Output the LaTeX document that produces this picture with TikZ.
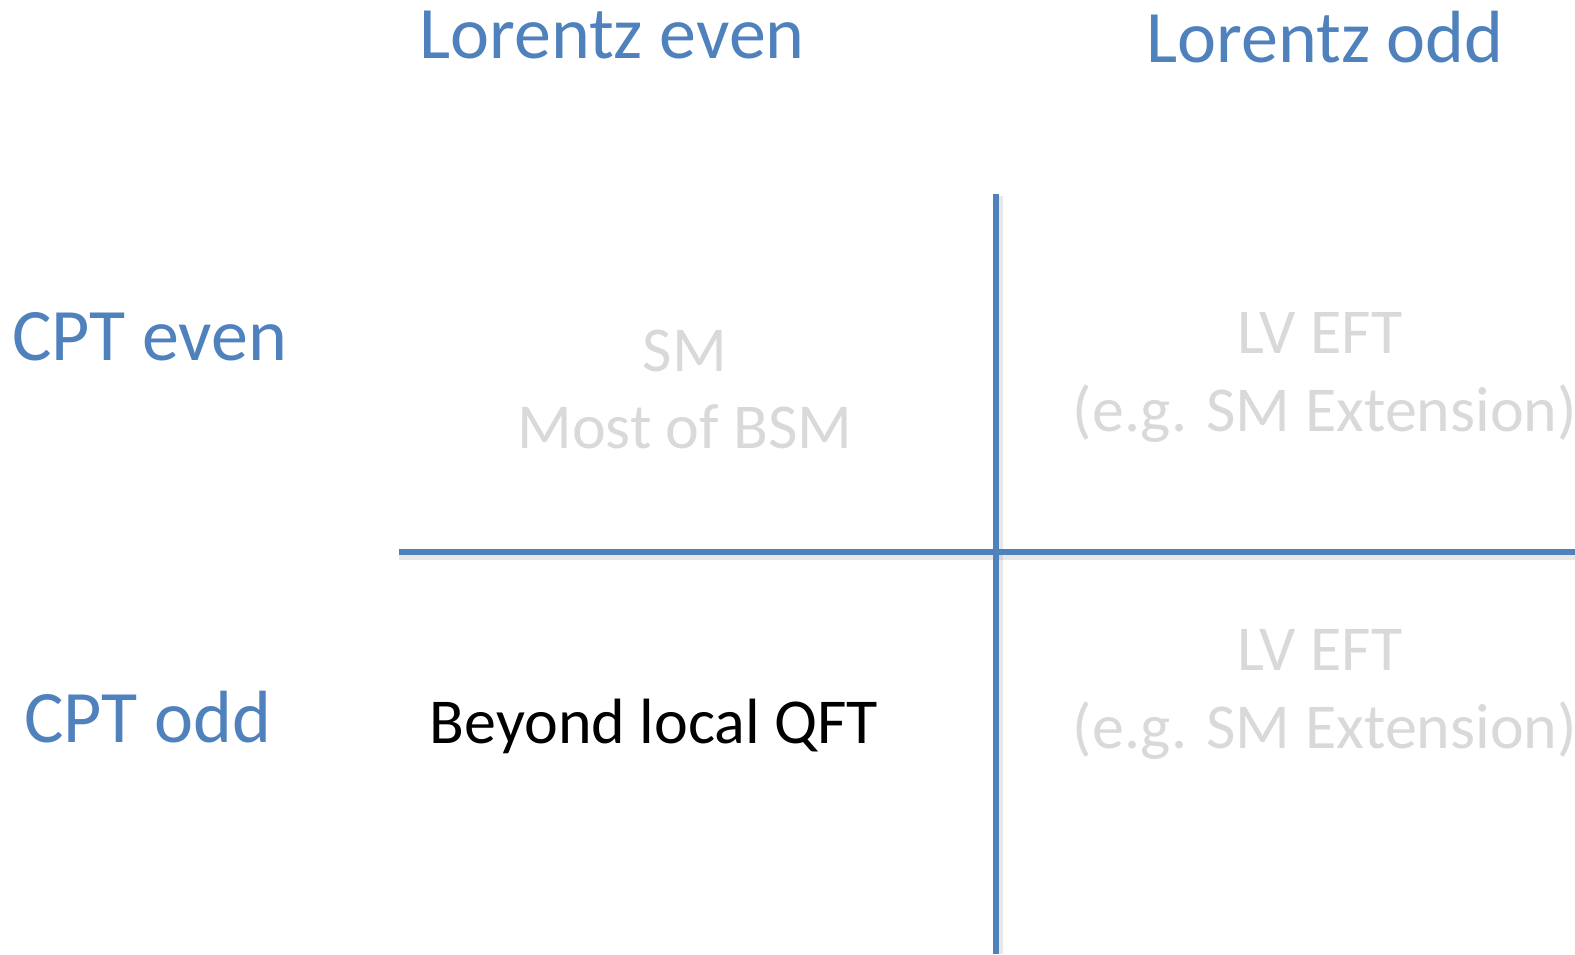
\documentclass[tikz,border=0pt]{standalone}
\usepackage{fontspec}
\setmainfont{Carlito}
\definecolor{hdrblue}{HTML}{4F81BD}
\definecolor{faint}{HTML}{D9D9D9}
\tikzset{
  hdr/.style={anchor=base, inner sep=0pt, text=hdrblue, font=\fontsize{74}{88}\selectfont},
  cell/.style={anchor=base, inner sep=0pt, text=faint, font=\fontsize{64}{78}\selectfont},
  cellblack/.style={anchor=base, inner sep=0pt, text=black, font=\fontsize{64}{78}\selectfont},
  rule/.style={draw=hdrblue, line width=5.5pt},
  ruleshadow/.style={draw=black, opacity=0.09, line width=9pt},
}
\begin{document}
\begin{tikzpicture}[x=1pt,y=-1pt]
\useasboundingbox (0,0) rectangle (1575,954);
% grid coordinates
\coordinate (hL) at (399,552);
\coordinate (hR) at (1575,552);
\coordinate (vT) at (996,194);
\coordinate (vB) at (996,954);
\coordinate (hLs) at (399,555);
\coordinate (hRs) at (1575,555);
\coordinate (vTs) at (998.5,196);
\coordinate (vBs) at (998.5,954);
% shadows
\draw[ruleshadow] (hLs) -- (hRs);
\draw[ruleshadow] (vTs) -- (vBs);
% lines
\draw[rule] (hL) -- (hR);
\draw[rule] (vT) -- (vB);
% headers
\node[hdr] (lorEven) at (612,58) {Lorentz even};
\node[hdr] (lorOdd) at (1325,62) {Lorentz odd};
\node[hdr,anchor=base west] (cptEven) at (12,360) {CPT even};
\node[hdr,anchor=base west] (cptOdd) at (24,742) {CPT odd};
% cells
\node[cell] (sm) at (685,371) {SM};
\node[cell] (bsm) at (685,448) {Most of BSM};
\node[cell] (lv1) at (1320,353) {LV EFT};
\node[cell] (ex1) at (1325,431) {(e.g. SM Extension)};
\node[cell] (lv2) at (1320,670) {LV EFT};
\node[cell] (ex2) at (1325,748) {(e.g. SM Extension)};
\node[cellblack] (beyond) at (654,743) {Beyond local QFT};
\end{tikzpicture}
\end{document}
